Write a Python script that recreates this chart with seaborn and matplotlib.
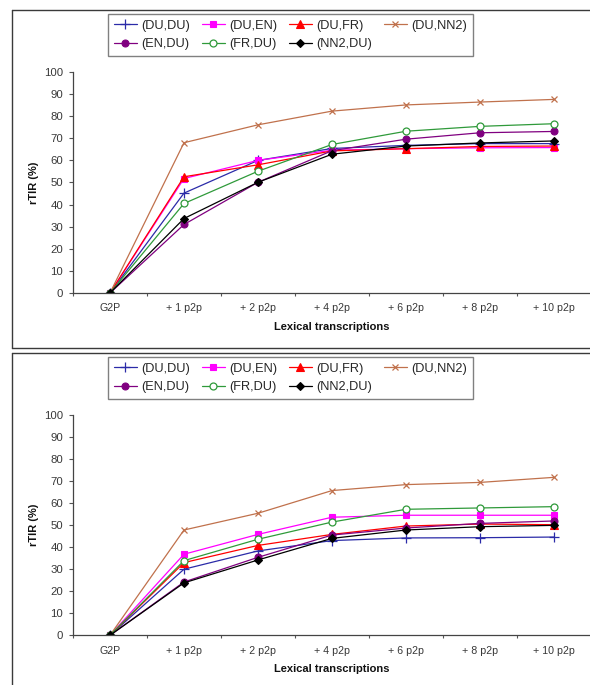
import matplotlib
matplotlib.use("Agg")
import matplotlib.pyplot as plt
from matplotlib.lines import Line2D
from matplotlib.ticker import FixedLocator, NullFormatter
import seaborn as sns
import pandas as pd

categories = ["G2P", "+ 1 p2p", "+ 2 p2p", "+ 4 p2p", "+ 6 p2p", "+ 8 p2p", "+ 10 p2p"]
series_names = ["(DU,DU)", "(DU,EN)", "(DU,FR)", "(DU,NN2)", "(EN,DU)", "(FR,DU)", "(NN2,DU)"]

# top panel
du_du_a = [0, 45.2, 60.0, 65.4, 66.8, 67.6, 67.6]
du_en_a = [0, 51.8, 60.0, 64.6, 65.3, 65.7, 65.8]
du_fr_a = [0, 52.6, 58.0, 64.3, 65.3, 66.3, 66.5]
du_nn2_a = [0, 68.0, 76.1, 82.3, 85.1, 86.4, 87.6]
en_du_a = [0, 31.0, 50.1, 64.4, 69.6, 72.5, 73.1]
fr_du_a = [0, 40.5, 55.1, 67.2, 73.2, 75.4, 76.6]
nn2_du_a = [0, 33.7, 50.1, 62.8, 66.5, 67.9, 68.8]

# bottom panel
du_du_b = [0, 30.0, 38.3, 43.0, 44.2, 44.3, 44.6]
du_en_b = [0, 36.8, 45.8, 53.6, 54.5, 54.5, 54.5]
du_fr_b = [0, 33.0, 40.8, 45.8, 49.6, 50.5, 50.2]
du_nn2_b = [0, 47.8, 55.4, 65.7, 68.4, 69.4, 71.7]
en_du_b = [0, 24.2, 35.4, 45.5, 48.7, 50.8, 51.9]
fr_du_b = [0, 33.9, 43.6, 51.4, 57.2, 57.8, 58.4]
nn2_du_b = [0, 23.8, 34.2, 44.0, 47.8, 49.3, 49.9]

y_ticks = [0, 10, 20, 30, 40, 50, 60, 70, 80, 90, 100]
x_label = "Lexical transcriptions"
y_label = "rTIR (%)"

top_data = [du_du_a, du_en_a, du_fr_a, du_nn2_a, en_du_a, fr_du_a, nn2_du_a]
bottom_data = [du_du_b, du_en_b, du_fr_b, du_nn2_b, en_du_b, fr_du_b, nn2_du_b]

styles = [
    dict(color="#2B2BA8", marker="+", ms=7.0, mfc="#2B2BA8", mew=0.9),
    dict(color="#FF00FF", marker="s", ms=5.0, mfc="#FF00FF", mew=0.8),
    dict(color="#FF0000", marker="^", ms=5.5, mfc="#FF0000", mew=0.8),
    dict(color="#C0714C", marker="x", ms=5.0, mfc="#C0714C", mew=0.9),
    dict(color="#800080", marker="o", ms=5.0, mfc="#800080", mew=0.8),
    dict(color="#2F9A3A", marker="o", ms=5.0, mfc="white", mew=0.9),
    dict(color="#000000", marker="D", ms=4.5, mfc="#000000", mew=0.8),
]

sns.set_style("white")
plt.rcParams["font.family"] = ["Liberation Sans", "DejaVu Sans"]

W, H = 590, 685
fig = plt.figure(figsize=(W / 100, H / 100), dpi=100)


def fx(px):
    return px / W


def fy(py):
    return 1 - py / H


frame_kw = dict(color="#3a3a3a", lw=1.0, transform=fig.transFigure)
# top frame: top, left, bottom edges (right edge lies beyond the image)
fig.add_artist(Line2D([fx(12), 1.05], [fy(9.5), fy(9.5)], **frame_kw))
fig.add_artist(Line2D([fx(12), fx(12)], [fy(9.5), fy(348)], **frame_kw))
fig.add_artist(Line2D([fx(12), 1.05], [fy(348), fy(348)], **frame_kw))
# bottom frame: top and left edges
fig.add_artist(Line2D([fx(12), 1.05], [fy(353), fy(353)], **frame_kw))
fig.add_artist(Line2D([fx(12), fx(12)], [fy(353), -0.05], **frame_kw))

x_pos = list(range(len(categories)))


def draw_panel(ax, data, legend_top_px):
    for name, vals, st in zip(series_names, data, styles):
        df = pd.DataFrame({"x": x_pos, "y": vals})
        sns.lineplot(data=df, x="x", y="y", ax=ax, color=st["color"],
                     marker=st["marker"], markersize=st["ms"],
                     markerfacecolor=st["mfc"], markeredgecolor=st["color"],
                     markeredgewidth=st["mew"], lw=0.9, label=name,
                     legend=False)
    ax.set_xlim(-0.5, 6.5)
    ax.set_ylim(0, 100)
    ax.set_yticks(y_ticks)
    ax.set_yticklabels([str(t) for t in y_ticks])
    ax.set_xticks(x_pos)
    ax.set_xticklabels(categories)
    ax.xaxis.set_minor_locator(FixedLocator([i - 0.5 for i in range(8)]))
    ax.xaxis.set_minor_formatter(NullFormatter())
    ax.tick_params(axis="x", which="major", length=0, pad=7.5,
                   labelsize=7.7, labelcolor="#383838")
    ax.tick_params(axis="x", which="minor", length=2.5, width=0.8,
                   color="#555555", direction="out", bottom=True)
    ax.tick_params(axis="y", which="major", length=3, width=0.8,
                   color="#555555", direction="out", left=True, pad=4,
                   labelsize=8.2, labelcolor="#383838")
    for s in ["top", "right"]:
        ax.spines[s].set_visible(False)
    for s in ["left", "bottom"]:
        ax.spines[s].set_color("#444444")
        ax.spines[s].set_linewidth(0.9)
    ax.set_xlabel(x_label, fontsize=8, fontweight="bold", color="#111111")
    ax.set_ylabel(y_label, fontsize=8, fontweight="bold", color="#111111")
    ax.xaxis.set_label_coords(0.5, -0.154)
    ax.xaxis.label.set_va("center")
    ax.yaxis.set_label_coords(-0.075, 0.5)
    ax.yaxis.label.set_va("center")
    ax.set_facecolor("white")
    ax.grid(False)

    handles, labels = ax.get_legend_handles_labels()
    order = [0, 4, 1, 5, 2, 6, 3]
    leg = ax.legend([handles[i] for i in order], [labels[i] for i in order],
                    ncol=4, loc="upper left",
                    bbox_to_anchor=(108 / W, 1 - legend_top_px / H),
                    bbox_transform=fig.transFigure,
                    fontsize=9.2, frameon=True, fancybox=False,
                    handlelength=1.8, handletextpad=0.35,
                    columnspacing=0.9, labelspacing=0.5,
                    borderpad=0.45, borderaxespad=0)
    fr = leg.get_frame()
    fr.set_edgecolor("#808080")
    fr.set_linewidth(1.0)
    fr.set_facecolor("white")
    fr.set_alpha(1)


ax_w = 518 / W
ax_l = 73 / W
ax1 = fig.add_axes([ax_l, 1 - 293 / H, ax_w, 221 / H])
ax2 = fig.add_axes([ax_l, 1 - 635.3 / H, ax_w, 220.3 / H])
draw_panel(ax1, top_data, 14)
draw_panel(ax2, bottom_data, 357)

fig.savefig("out.png", dpi=100, facecolor="white")
